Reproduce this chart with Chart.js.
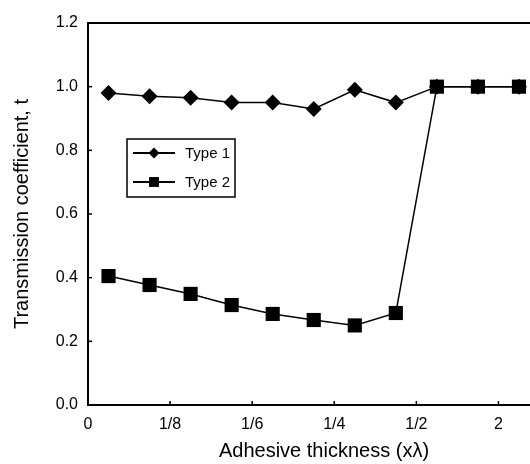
<!DOCTYPE html>
<html lang="en">
<head>
<meta charset="UTF-8">
<title>Transmission coefficient vs adhesive thickness</title>
<style>
  html, body { margin: 0; padding: 0; background: #fff; overflow: hidden; }
  #wrap { width: 530px; height: 464px; position: relative; overflow: hidden; }
  #myChart { display: block; }
</style>
</head>
<body>
<div id="wrap"><canvas id="myChart" width="570" height="464"></canvas></div>

<script src="https://cdn.jsdelivr.net/npm/chart.js@4.4.1/dist/chart.umd.min.js"></script>
<script>
    // data
    var xPositions = [0.5, 1.5, 2.5, 3.5, 4.5, 5.5, 6.5, 7.5, 8.5, 9.5, 10.5];
    var type1 = [0.98, 0.97, 0.965, 0.95, 0.95, 0.93, 0.99, 0.95, 1.0, 1.0, 1.0];
    var type2 = [0.405, 0.377, 0.349, 0.314, 0.286, 0.267, 0.25, 0.289, 1.0, 1.0, 1.0];
    var tickValues = [0, 2, 4, 6, 8, 10];
    var tickLabels = ['0', '1/8', '1/6', '1/4', '1/2', '2'];

    var FONT = "'Liberation Sans', Arial, sans-serif";

    function toPoints(ys) {
        return ys.map(function (y, i) { return { x: xPositions[i], y: y }; });
    }

    // top frame line + small inward tick marks
    var framePlugin = {
        id: 'frame',
        afterDraw: function (chart) {
            var ctx = chart.ctx, a = chart.chartArea;
            var xs = chart.scales.x, ys = chart.scales.y;
            ctx.save();
            ctx.strokeStyle = '#000';
            ctx.lineWidth = 2;
            ctx.beginPath();
            ctx.moveTo(a.left, a.top);
            ctx.lineTo(a.right, a.top);
            ctx.lineTo(a.right, a.bottom);
            ctx.stroke();
            ctx.lineWidth = 1.5;
            ys.ticks.forEach(function (t) {
                var py = ys.getPixelForValue(t.value);
                ctx.beginPath();
                ctx.moveTo(a.left, py);
                ctx.lineTo(a.left + 4, py);
                ctx.stroke();
            });
            xs.ticks.forEach(function (t) {
                var px = xs.getPixelForValue(t.value);
                ctx.beginPath();
                ctx.moveTo(px, a.bottom);
                ctx.lineTo(px, a.bottom - 4);
                ctx.stroke();
            });
            ctx.restore();
        }
    };

    // boxed legend inside the plot
    var legendBoxPlugin = {
        id: 'legendBox',
        afterDraw: function (chart) {
            var ctx = chart.ctx;
            var bx = 127, by = 139, bw = 108, bh = 58;
            ctx.save();
            ctx.strokeStyle = '#000';
            ctx.lineWidth = 1.5;
            ctx.strokeRect(bx, by, bw, bh);
            chart.data.datasets.forEach(function (ds, i) {
                var ry = by + 14 + i * 29;
                ctx.lineWidth = 2;
                ctx.beginPath();
                ctx.moveTo(bx + 6, ry);
                ctx.lineTo(bx + 48, ry);
                ctx.stroke();
                ctx.fillStyle = '#000';
                Chart.helpers.drawPoint(ctx, {
                    pointStyle: ds.pointStyle,
                    radius: ds.pointStyle === 'rect' ? 7 : 5.5,
                    borderWidth: 0
                }, bx + 27, ry);
                ctx.font = '15px ' + FONT;
                ctx.textBaseline = 'middle';
                ctx.fillText(ds.label, bx + 58, ry + 1);
            });
            ctx.restore();
        }
    };

    function createChart() {
        var ctx = document.getElementById('myChart').getContext('2d');
        new Chart(ctx, {
            type: 'line',
            data: {
                datasets: [{
                    label: 'Type 1',
                    data: toPoints(type1),
                    borderColor: '#000',
                    backgroundColor: '#000',
                    borderWidth: 1.5,
                    pointStyle: 'rectRot',
                    pointRadius: 8,
                    pointBorderWidth: 0,
                    order: 1,
                    clip: false
                }, {
                    label: 'Type 2',
                    data: toPoints(type2),
                    borderColor: '#000',
                    backgroundColor: '#000',
                    borderWidth: 1.5,
                    pointStyle: 'rect',
                    pointRadius: 10,
                    pointBorderWidth: 0,
                    order: 0,
                    clip: false
                }]
            },
            options: {
                responsive: false,
                animation: false,
                layout: { padding: { top: 23, right: 0, bottom: 0, left: 0 } },
                plugins: { legend: { display: false }, tooltip: { enabled: false } },
                scales: {
                    x: {
                        type: 'linear',
                        min: 0,
                        max: 11.5,
                        afterBuildTicks: function (scale) {
                            scale.ticks = tickValues.map(function (v) { return { value: v }; });
                        },
                        afterFit: function (scale) { scale.height = 59; },
                        grid: { display: true, drawOnChartArea: false, drawTicks: false },
                        border: { display: true, color: '#000', width: 2 },
                        ticks: {
                            color: '#000',
                            padding: 10,
                            maxRotation: 0,
                            font: { family: FONT, size: 16 },
                            callback: function (v, i) { return tickLabels[i]; }
                        },
                        title: {
                            display: true,
                            text: 'Adhesive thickness (x\u03bb)',
                            color: '#000',
                            font: { family: FONT, size: 20 },
                            padding: { top: 0, bottom: 1 }
                        }
                    },
                    y: {
                        min: 0,
                        max: 1.2,
                        afterFit: function (scale) { scale.width = 88; },
                        grid: { display: true, drawOnChartArea: false, drawTicks: false },
                        border: { display: true, color: '#000', width: 2 },
                        ticks: {
                            stepSize: 0.2,
                            color: '#000',
                            padding: 10,
                            font: { family: FONT, size: 16 },
                            callback: function (v) { return v.toFixed(1); }
                        },
                        title: {
                            display: true,
                            text: 'Transmission coefficient, t',
                            color: '#000',
                            font: { family: FONT, size: 20 },
                            padding: { top: 10, bottom: 0 }
                        }
                    }
                }
            },
            plugins: [framePlugin, legendBoxPlugin]
        });
    }

    document.addEventListener('DOMContentLoaded', createChart);
</script>
</body>
</html>
